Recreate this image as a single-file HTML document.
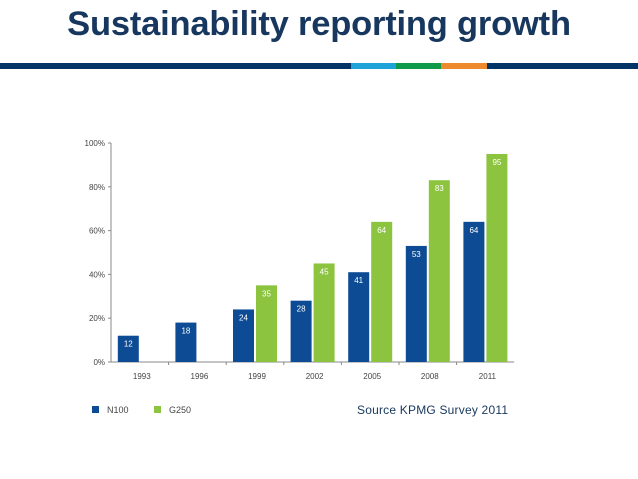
<!DOCTYPE html>
<html><head><meta charset="utf-8"><style>
body{margin:0;background:#fff;width:638px;height:479px;overflow:hidden;position:relative;font-family:"Liberation Sans",sans-serif}
#title{position:absolute;left:0;width:638px;top:5px;text-align:center;font:bold 34.5px "Liberation Sans",sans-serif;color:#17375e;letter-spacing:-0.2px}
</style></head><body>
<div id="title">Sustainability reporting growth</div>
<svg width="638" height="479" style="position:absolute;left:0;top:0">
<rect x="0" y="63" width="638" height="6" fill="#003366"/>
<rect x="351" y="63" width="45" height="6" fill="#1fa3d8"/>
<rect x="396" y="63" width="45" height="6" fill="#0e9a48"/>
<rect x="441" y="63" width="46" height="6" fill="#ee8a2e"/>
<g id="plot"></g>
<rect x="92" y="406" width="7" height="7" fill="#0d4b94"/>
<text x="107" y="413" font-size="9" fill="#444">N100</text>
<rect x="154" y="406" width="7" height="7" fill="#8cc43f"/>
<text x="169" y="413" font-size="9" fill="#444">G250</text>
<text x="357" y="414" font-size="12" fill="#17375e" textLength="151">Source KPMG Survey 2011</text>
</svg>
<script>
const categories=["1993","1996","1999","2002","2005","2008","2011"];
const n100=[12,18,24,28,41,53,64];
const g250=[null,null,35,45,64,83,95];
const yTicks=[0,20,40,60,80,100];
const ns="http://www.w3.org/2000/svg";
const g=document.getElementById('plot');
const x0=111,band=57.6,y0=362,ypp=2.19,bw=21;
const X=i=>x0+i*band, Y=v=>y0-v*ypp;
function mk(t,a,txt){const e=document.createElementNS(ns,t);for(const k in a)e.setAttribute(k,a[k]);if(txt!=null)e.textContent=txt;g.appendChild(e);return e;}
let ax=mk('line',{x1:x0,y1:Y(100),x2:x0,y2:y0,stroke:'#888','stroke-width':1});


let bx=mk('line',{x1:x0,y1:y0,x2:X(7),y2:y0,stroke:'#888','stroke-width':1});


yTicks.forEach(v=>{
 mk('line',{x1:x0-3,y1:Y(v),x2:x0,y2:Y(v),stroke:'#888'});
 const t=mk('text',{x:x0-6,y:Y(v)+3,'font-size':8,fill:'#444','text-anchor':'end'},v+'%');
 
 
});
categories.forEach((c,i)=>{
 const cx=X(i)+band/2+1;
 if(i>0)mk('line',{x1:X(i),y1:y0,x2:X(i),y2:y0+3,stroke:'#888'});
 const t=mk('text',{x:cx+1,y:y0+17,'font-size':8,fill:'#444','text-anchor':'middle'},c);
 
 
 const v=n100[i];
 const r=mk('rect',{x:cx-2-bw,y:Y(v),width:bw,height:v*ypp,fill:'#0d4b94'});
 
 
 mk('text',{x:cx-2-bw/2,y:Y(v)+11,'font-size':8,fill:'#fff','text-anchor':'middle'},v);
 const w=g250[i];
 if(w!=null){
  const r2=mk('rect',{x:cx,y:Y(w),width:bw,height:w*ypp,fill:'#8cc43f'});
  
  
  mk('text',{x:cx+bw/2,y:Y(w)+11,'font-size':8,fill:'#fff','text-anchor':'middle'},w);
 }
});
</script>
</body></html>
